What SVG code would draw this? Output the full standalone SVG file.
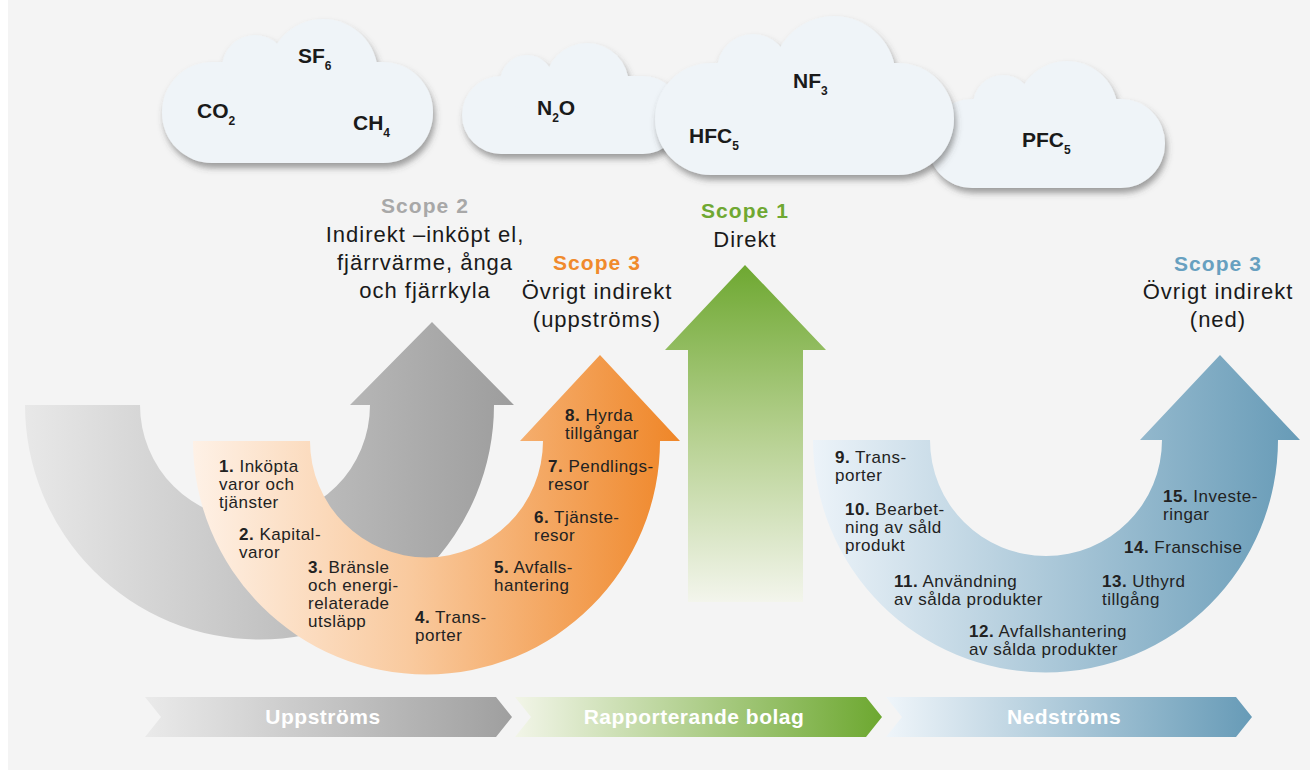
<svg xmlns="http://www.w3.org/2000/svg" width="1310" height="771" viewBox="0 0 1310 771">
<defs>
<linearGradient id="gGray" x1="0" y1="0" x2="1" y2="0"><stop offset="0" stop-color="#e8e8e8"/><stop offset="1" stop-color="#9d9d9d"/></linearGradient>
<linearGradient id="gOrange" x1="0" y1="0" x2="1" y2="0"><stop offset="0" stop-color="#fef1e6"/><stop offset="0.45" stop-color="#f9c99d"/><stop offset="1" stop-color="#ef8628"/></linearGradient>
<linearGradient id="gBlue" x1="0" y1="0" x2="1" y2="0"><stop offset="0" stop-color="#ecf3f9"/><stop offset="1" stop-color="#679bb7"/></linearGradient>
<linearGradient id="gGreen" x1="0" y1="0" x2="0" y2="1"><stop offset="0" stop-color="#6ea831"/><stop offset="0.5" stop-color="#b5d08f"/><stop offset="1" stop-color="#f3f5ec"/></linearGradient>
<linearGradient id="bGray" x1="0" y1="0" x2="1" y2="0"><stop offset="0" stop-color="#eaeaea"/><stop offset="1" stop-color="#9f9f9f"/></linearGradient>
<linearGradient id="bGreen" x1="0" y1="0" x2="1" y2="0"><stop offset="0" stop-color="#f2f5e8"/><stop offset="1" stop-color="#6da830"/></linearGradient>
<linearGradient id="bBlue" x1="0" y1="0" x2="1" y2="0"><stop offset="0" stop-color="#eff5fa"/><stop offset="1" stop-color="#679bb7"/></linearGradient>
<filter id="shadow" x="-10%" y="-20%" width="125%" height="150%"><feDropShadow dx="2" dy="5" stdDeviation="3" flood-color="#444" flood-opacity="0.5"/></filter>
<style>
.cloud{fill:#eff4f8}
.gas{font-family:"Liberation Sans",Arial,sans-serif;font-weight:bold;font-size:21px;fill:#1a1a1a}
.sub{font-size:12px}
.head{font-family:"Liberation Sans",Arial,sans-serif;font-weight:bold;font-size:21px;letter-spacing:1.1px;text-anchor:middle}
.body{font-family:"Liberation Sans",Arial,sans-serif;font-size:22px;letter-spacing:1px;fill:#1a1a1a;text-anchor:middle}
.item{font-family:"Liberation Sans",Arial,sans-serif;font-size:17px;letter-spacing:0.5px;fill:#222}
.item tspan.n{font-weight:bold}
.bar{font-family:"Liberation Sans",Arial,sans-serif;font-weight:bold;font-size:21px;letter-spacing:0.5px;fill:#fff;text-anchor:middle}
</style>
</defs>
<rect x="0" y="0" width="1310" height="771" fill="#ffffff"/>
<rect x="8" y="0" width="1302" height="770" fill="#f4f4f4"/>

<g id="cloud1" filter="url(#shadow)" class="cloud">
<rect x="162" y="62" width="271" height="101" rx="50"/>
<circle cx="255" cy="68" r="33"/>
<circle cx="323" cy="74" r="55"/>
</g>
<g id="cloud2" filter="url(#shadow)" class="cloud">
<rect x="462" y="76" width="220" height="78" rx="39"/>
<circle cx="527" cy="82" r="27"/>
<circle cx="587" cy="85" r="42"/>
</g>
<g id="cloud4" filter="url(#shadow)" class="cloud">
<rect x="928" y="99" width="237" height="89" rx="44"/>
<circle cx="1003" cy="105" r="30"/>
<circle cx="1067" cy="112" r="51"/>
</g>
<g id="cloud3" filter="url(#shadow)" class="cloud">
<rect x="655" y="63" width="299" height="112" rx="56"/>
<circle cx="753" cy="70" r="36"/>
<circle cx="834" cy="78" r="62"/>
</g>
<g id="gases" class="gas">
<text x="298" y="63">SF<tspan class="sub" dy="7">6</tspan></text>
<text x="197" y="118">CO<tspan class="sub" dy="7">2</tspan></text>
<text x="353" y="130">CH<tspan class="sub" dy="7">4</tspan></text>
<text x="537" y="115">N<tspan class="sub" dy="7">2</tspan><tspan dy="-7">O</tspan></text>
<text x="793" y="88">NF<tspan class="sub" dy="7">3</tspan></text>
<text x="689" y="143">HFC<tspan class="sub" dy="7">5</tspan></text>
<text x="1022" y="147">PFC<tspan class="sub" dy="7">5</tspan></text>
</g>

<g id="scope2">
<path d="M25 405 A234.5 234.5 0 0 0 494 405 L514 405 L432 322 L350 405 L370 405 A115 115 0 0 1 140 405 Z" fill="url(#gGray)"/>
<text class="head" x="425" y="213" fill="#a8a8a8">Scope 2</text>
<text class="body" x="425" y="242">Indirekt –inköpt el,</text>
<text class="body" x="425" y="270">fjärrvärme, ånga</text>
<text class="body" x="425" y="298">och fjärrkyla</text>
</g>

<g id="scope3up">
<path d="M193 441 A233.5 233.5 0 0 0 660 441 L680 441 L600 355 L520 441 L543 441 A116.5 116.5 0 0 1 310 441 Z" fill="url(#gOrange)"/>
<text class="head" x="597" y="270" fill="#f08a2c">Scope 3</text>
<text class="body" x="597" y="299">Övrigt indirekt</text>
<text class="body" x="597" y="327">(uppströms)</text>
<text class="item" x="565" y="421"><tspan class="n">8.</tspan> Hyrda</text>
<text class="item" x="565" y="439">tillgångar</text>
<text class="item" x="548" y="472"><tspan class="n">7.</tspan> Pendlings-</text>
<text class="item" x="548" y="490">resor</text>
<text class="item" x="534" y="523"><tspan class="n">6.</tspan> Tjänste-</text>
<text class="item" x="534" y="541">resor</text>
<text class="item" x="494" y="573"><tspan class="n">5.</tspan> Avfalls-</text>
<text class="item" x="494" y="591">hantering</text>
<text class="item" x="415" y="623"><tspan class="n">4.</tspan> Trans-</text>
<text class="item" x="415" y="641">porter</text>
<text class="item" x="308" y="573"><tspan class="n">3.</tspan> Bränsle</text>
<text class="item" x="308" y="591">och energi-</text>
<text class="item" x="308" y="609">relaterade</text>
<text class="item" x="308" y="627">utsläpp</text>
<text class="item" x="239" y="540"><tspan class="n">2.</tspan> Kapital-</text>
<text class="item" x="239" y="558">varor</text>
<text class="item" x="219" y="472"><tspan class="n">1.</tspan> Inköpta</text>
<text class="item" x="219" y="490">varor och</text>
<text class="item" x="219" y="508">tjänster</text>
</g>

<g id="scope1">
<path d="M688 602 L688 350 L665 350 L745 265 L826 350 L803 350 L803 602 Z" fill="url(#gGreen)"/>
<text class="head" x="745" y="218" fill="#6fa832">Scope 1</text>
<text class="body" x="745" y="247">Direkt</text>
</g>

<g id="scope3down">
<path d="M813 440 A232.5 232.5 0 0 0 1278 440 L1300 440 L1220 355 L1140 440 L1162 440 A116 116 0 0 1 930 440 Z" fill="url(#gBlue)"/>
<text class="head" x="1218" y="271" fill="#67a0c0">Scope 3</text>
<text class="body" x="1218" y="299">Övrigt indirekt</text>
<text class="body" x="1218" y="327">(ned)</text>
<text class="item" x="835" y="463"><tspan class="n">9.</tspan> Trans-</text>
<text class="item" x="835" y="481">porter</text>
<text class="item" x="845" y="515"><tspan class="n">10.</tspan> Bearbet-</text>
<text class="item" x="845" y="533">ning av såld</text>
<text class="item" x="845" y="551">produkt</text>
<text class="item" x="894" y="587"><tspan class="n">11.</tspan> Användning</text>
<text class="item" x="894" y="605">av sålda produkter</text>
<text class="item" x="969" y="637"><tspan class="n">12.</tspan> Avfallshantering</text>
<text class="item" x="969" y="655">av sålda produkter</text>
<text class="item" x="1102" y="587"><tspan class="n">13.</tspan> Uthyrd</text>
<text class="item" x="1102" y="605">tillgång</text>
<text class="item" x="1124" y="553"><tspan class="n">14.</tspan> Franschise</text>
<text class="item" x="1163" y="502"><tspan class="n">15.</tspan> Investe-</text>
<text class="item" x="1163" y="520">ringar</text>
</g>

<g id="bars">
<g id="bar-upp">
<path d="M145 697 L496 697 L512 717 L496 737 L145 737 L161 717 Z" fill="url(#bGray)"/>
<text class="bar" x="323" y="724">Uppströms</text>
</g>
<g id="bar-rapp">
<path d="M515 697 L866 697 L882 717 L866 737 L515 737 L531 717 Z" fill="url(#bGreen)"/>
<text class="bar" x="694" y="724">Rapporterande bolag</text>
</g>
<g id="bar-ned">
<path d="M886 697 L1236 697 L1252 717 L1236 737 L886 737 L902 717 Z" fill="url(#bBlue)"/>
<text class="bar" x="1064" y="724">Nedströms</text>
</g>
</g>
<g id="connectors"/>
</svg>
